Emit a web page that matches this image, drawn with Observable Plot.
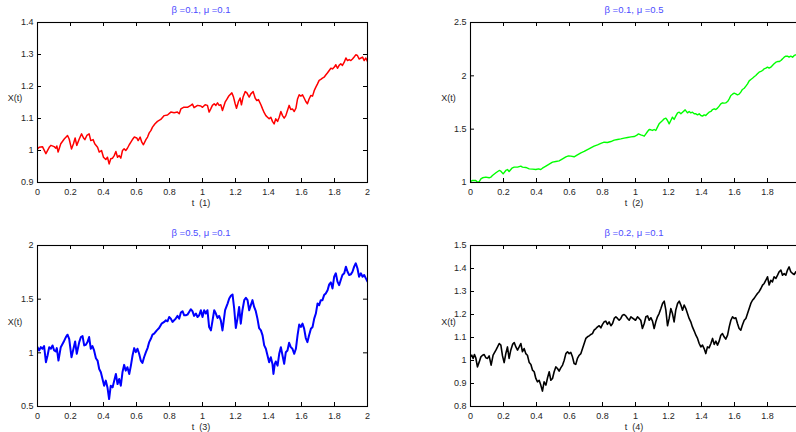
<!DOCTYPE html>
<html>
<head>
<meta charset="utf-8">
<script src="https://cdn.jsdelivr.net/npm/d3@7"></script>
<script src="https://cdn.jsdelivr.net/npm/@observablehq/plot@0.6"></script>
<style>
  html, body { margin: 0; padding: 0; background: #fff; }
  #wrap { position: relative; width: 796px; height: 432px; overflow: hidden; background: #fff;
          font-family: "Liberation Sans", Arial, sans-serif; }
  .panel { position: absolute; }
  .panel svg { max-width: none !important; }
  .lbl { position: absolute; transform: translate(-50%, -50%); white-space: pre; font-size: 9px; color: #262626; line-height: 1; }
  .ttl { position: absolute; transform: translate(-50%, -50%); white-space: pre; font-size: 9.5px; color: #4d4dff; line-height: 1; }
</style>
</head>
<body>
<div id="wrap"></div>
<script>
// ---------- data ----------
const titles = ["\u03b2 =0.1, \u03bc =0.1", "\u03b2 =0.1, \u03bc =0.5", "\u03b2 =0.5, \u03bc =0.1", "\u03b2 =0.2, \u03bc =0.1"];
const xLabels = ["t  (1)", "t  (2)", "t  (3)", "t  (4)"];
const yLabel = "X(t)";
const xTicks = [0, 0.2, 0.4, 0.6, 0.8, 1, 1.2, 1.4, 1.6, 1.8, 2];
// the right-hand panels are cut by the picture edge before t = 2
const xTickLabelsRight = [0, 0.2, 0.4, 0.6, 0.8, 1, 1.2, 1.4, 1.6, 1.8];
const yTicks1 = [0.9, 1, 1.1, 1.2, 1.3, 1.4];
const yTicks2 = [1, 1.5, 2, 2.5];
const yTicks3 = [0.5, 1, 1.5, 2];
const yTicks4 = [0.8, 0.9, 1, 1.1, 1.2, 1.3, 1.4, 1.5];

// panel 1 (beta 0.1, mu 0.1)
const t1 = [0,0.010,0.030,0.051,0.071,0.081,0.101,0.111,0.117,0.125,0.141,0.162,0.182,0.192,0.206,0.218,0.228,0.238,0.253,0.267,
0.279,0.287,0.299,0.313,0.323,0.337,0.347,0.364,0.374,0.388,0.400,0.414,0.424,0.434,0.444,0.455,0.465,0.475,0.485,0.495,
0.505,0.515,0.525,0.535,0.545,0.556,0.566,0.578,0.586,0.602,0.610,0.622,0.632,0.642,0.657,0.667,0.677,0.687,0.697,0.711,
0.727,0.747,0.768,0.788,0.808,0.828,0.848,0.859,0.869,0.885,0.909,0.929,0.939,0.949,0.970,0.990,
1.0,1.016,1.030,1.040,1.050,1.060,1.071,1.081,1.091,1.101,1.111,1.121,1.137,1.152,1.162,1.178,1.188,1.198,1.206,1.218,
1.228,1.236,1.246,1.259,1.269,1.277,1.283,1.293,1.307,1.319,1.329,1.339,1.354,1.364,1.374,1.384,1.394,1.404,1.414,1.424,
1.434,1.444,1.455,1.465,1.475,1.485,1.495,1.505,1.515,1.525,1.535,1.545,1.556,1.566,1.576,1.586,1.596,1.606,1.616,1.626,
1.636,1.646,1.657,1.667,1.677,1.687,1.697,1.707,1.717,1.727,1.737,1.747,1.758,1.768,1.778,1.788,1.798,1.808,1.818,1.828,
1.838,1.848,1.859,1.869,1.879,1.889,1.899,1.909,1.919,1.929,1.939,1.949,1.960,1.970,1.980,1.990,2.0];
const x1 = [1.005,1.010,1.012,0.990,1.010,1.016,1.012,1.007,1.014,0.995,1.021,1.036,1.047,1.036,1.005,1.021,1.039,1.016,1.036,1.052,
1.039,1.034,1.047,1.052,1.031,1.034,1.021,1.010,0.995,1.000,0.979,0.972,0.979,0.958,0.974,0.976,0.984,0.997,0.979,0.984,
0.976,1.000,1.005,1.000,1.007,1.018,1.026,1.036,1.042,1.039,1.031,1.042,1.026,1.018,1.034,1.042,1.055,1.062,1.073,1.083,
1.091,1.097,1.109,1.111,1.120,1.118,1.120,1.115,1.130,1.135,1.135,1.141,1.145,1.134,1.141,1.139,
1.135,1.143,1.141,1.120,1.130,1.141,1.146,1.141,1.149,1.141,1.143,1.125,1.151,1.164,1.172,1.180,1.167,1.146,1.132,1.153,
1.164,1.143,1.167,1.184,1.180,1.172,1.167,1.177,1.184,1.164,1.156,1.159,1.143,1.130,1.118,1.109,1.104,1.099,1.104,1.091,
1.083,1.099,1.091,1.104,1.122,1.109,1.101,1.109,1.125,1.141,1.128,1.130,1.122,1.132,1.161,1.174,1.170,1.174,1.164,1.153,
1.146,1.161,1.172,1.170,1.187,1.198,1.208,1.219,1.222,1.226,1.229,1.236,1.243,1.250,1.257,1.255,1.260,1.268,1.257,1.266,
1.271,1.266,1.276,1.289,1.281,1.284,1.281,1.286,1.292,1.299,1.297,1.286,1.289,1.292,1.281,1.289,1.278];

// panel 2 (beta 0.1, mu 0.5)
const t2 = [0,0.012,0.032,0.042,0.053,0.063,0.073,0.093,0.113,0.123,0.133,0.154,0.174,0.184,0.198,0.214,0.224,0.234,0.251,0.265,
0.285,0.305,0.315,0.335,0.356,0.376,0.396,0.412,0.426,0.436,0.457,0.477,0.497,0.517,0.537,0.558,0.578,0.594,0.608,0.628,
0.648,0.669,0.689,0.709,0.729,0.749,0.770,0.790,0.810,0.830,0.851,0.871,0.891,0.911,0.931,0.952,0.972,0.992,1.006,1.018,
1.032,1.042,1.053,1.063,1.073,1.083,1.093,1.103,1.113,1.123,1.133,1.143,1.164,1.174,1.184,1.194,1.204,1.214,1.224,1.234,
1.244,1.255,1.265,1.275,1.285,1.301,1.315,1.325,1.335,1.345,1.356,1.366,1.376,1.386,1.396,1.406,1.416,1.426,1.436,1.446,
1.457,1.467,1.477,1.487,1.497,1.507,1.517,1.527,1.537,1.547,1.558,1.568,1.578,1.588,1.598,1.608,1.618,1.628,1.638,1.648,
1.659,1.669,1.679,1.689,1.699,1.709,1.719,1.729,1.739,1.749,1.760,1.770,1.780,1.790,1.800,1.810,1.820,1.830,1.840,1.851,
1.861,1.871,1.881,1.891,1.901,1.911,1.921,1.931,1.941,1.952,1.962,1.972,2.0];
const x2 = [1.009,1.019,1.019,1.003,1.009,1.034,1.044,1.050,1.044,1.050,1.066,1.091,1.113,1.106,1.081,1.113,1.122,1.103,1.134,1.144,
1.144,1.153,1.144,1.141,1.128,1.125,1.122,1.128,1.122,1.134,1.153,1.172,1.191,1.197,1.203,1.222,1.241,1.250,1.247,1.241,
1.259,1.278,1.291,1.309,1.325,1.341,1.353,1.366,1.378,1.375,1.384,1.397,1.403,1.409,1.416,1.422,1.428,1.431,1.441,1.456,
1.447,1.441,1.434,1.456,1.478,1.497,1.494,1.488,1.497,1.488,1.519,1.550,1.581,1.597,1.603,1.581,1.550,1.581,1.613,1.591,
1.622,1.653,1.659,1.644,1.659,1.681,1.653,1.666,1.653,1.659,1.644,1.644,1.634,1.644,1.628,1.622,1.634,1.628,1.644,1.659,
1.666,1.684,1.691,1.684,1.697,1.716,1.738,1.747,1.744,1.747,1.759,1.784,1.816,1.828,1.838,1.831,1.822,1.828,1.847,1.872,
1.884,1.903,1.925,1.953,1.966,1.978,1.991,2.003,2.019,2.034,2.041,2.050,2.066,2.072,2.081,2.072,2.081,2.097,2.113,2.128,
2.134,2.134,2.144,2.159,2.175,2.184,2.184,2.175,2.184,2.175,2.191,2.197,2.20];

// panel 3 (beta 0.5, mu 0.1)
const t3 = [0,0.010,0.020,0.030,0.040,0.051,0.061,0.071,0.081,0.091,0.101,0.111,0.117,0.127,0.141,0.158,0.172,0.182,0.192,0.206,
0.218,0.228,0.238,0.253,0.263,0.273,0.283,0.293,0.303,0.313,0.323,0.333,0.343,0.354,0.364,0.374,0.384,0.394,0.404,0.414,
0.424,0.434,0.444,0.455,0.465,0.475,0.485,0.495,0.505,0.515,0.525,0.535,0.545,0.556,0.566,0.576,0.586,0.596,0.606,0.616,
0.626,0.636,0.646,0.657,0.667,0.677,0.687,0.697,0.707,0.723,0.737,0.752,0.768,0.778,0.788,0.798,0.808,0.818,0.828,0.838,
0.848,0.859,0.869,0.879,0.889,0.899,0.909,0.919,0.929,0.939,0.949,0.960,0.970,0.980,0.990,
1.0,1.010,1.020,1.030,1.040,1.051,1.061,1.071,1.081,1.091,1.101,1.111,1.121,1.137,1.152,1.162,1.172,1.182,1.192,1.202,
1.212,1.222,1.232,1.242,1.253,1.263,1.273,1.283,1.293,1.303,1.313,1.323,1.333,1.343,1.354,1.364,1.374,1.384,1.394,1.404,
1.414,1.424,1.430,1.438,1.444,1.455,1.465,1.475,1.485,1.495,1.505,1.515,1.525,1.535,1.545,1.556,1.566,1.576,1.586,1.596,
1.606,1.616,1.626,1.636,1.646,1.657,1.667,1.677,1.687,1.697,1.707,1.717,1.727,1.737,1.747,1.758,1.768,1.778,1.788,1.798,
1.808,1.818,1.828,1.838,1.848,1.859,1.869,1.879,1.889,1.899,1.909,1.919,1.929,1.939,1.949,1.960,1.970,1.980,1.990,2.0];
const x3 = [1.053,1.022,1.053,1.038,1.063,0.913,0.975,1.053,1.038,1.069,1.022,1.013,1.044,0.928,1.053,1.100,1.147,1.169,1.131,0.959,
1.038,1.106,0.991,1.100,1.147,1.156,1.069,1.075,1.100,1.147,1.038,1.063,1.022,0.950,0.928,0.850,0.819,0.756,0.694,0.741,
0.678,0.569,0.694,0.678,0.741,0.803,0.709,0.756,0.694,0.819,0.888,0.834,0.866,0.803,0.881,0.975,1.044,1.006,1.038,0.991,
0.928,0.906,0.959,1.006,1.044,1.100,1.131,1.169,1.178,1.209,1.231,1.272,1.288,1.303,1.294,1.334,1.319,1.288,1.303,1.319,
1.344,1.319,1.375,1.388,1.350,1.350,1.356,1.381,1.406,1.388,1.344,1.366,1.334,1.350,1.397,
1.334,1.397,1.366,1.397,1.241,1.209,1.303,1.397,1.366,1.325,1.344,1.303,1.209,1.397,1.459,1.506,1.531,1.544,1.413,1.231,
1.319,1.428,1.272,1.397,1.491,1.513,1.491,1.397,1.444,1.491,1.428,1.388,1.319,1.231,1.209,1.163,1.069,1.038,0.975,0.913,
0.959,0.897,0.803,0.897,0.919,0.881,0.991,1.053,0.975,0.897,1.006,1.022,1.094,1.053,1.038,0.991,1.038,1.163,1.263,1.241,
1.272,1.225,1.138,1.100,1.163,1.225,1.241,1.319,1.366,1.459,1.444,1.491,1.491,1.538,1.553,1.584,1.638,1.656,1.600,1.709,
1.741,1.663,1.631,1.678,1.725,1.741,1.803,1.756,1.725,1.731,1.756,1.803,1.834,1.788,1.709,1.741,1.709,1.725,1.694,1.663];

// panel 4 (beta 0.2, mu 0.1)
const t4 = [0,0.008,0.016,0.024,0.032,0.042,0.053,0.063,0.073,0.083,0.093,0.103,0.113,0.125,0.137,
0.154,0.164,0.174,0.184,0.194,0.204,0.214,0.224,0.234,0.244,0.255,0.265,0.275,0.285,0.295,0.305,0.315,0.325,0.335,0.345,
0.356,0.366,0.376,0.386,0.396,0.406,0.416,0.426,0.436,0.446,0.457,0.467,0.477,0.487,0.497,0.507,0.517,0.527,0.537,0.547,
0.558,0.568,0.578,0.588,0.598,0.608,0.618,0.628,0.638,0.648,0.659,0.669,0.679,0.689,0.699,0.709,0.719,0.729,0.739,0.749,
0.760,0.770,0.780,0.790,0.800,0.810,0.820,0.830,0.840,0.851,0.861,0.871,0.881,0.891,0.901,0.911,0.921,0.931,0.941,0.952,
0.962,0.972,
1.0,1.012,1.022,1.032,1.042,1.053,1.063,1.073,1.083,1.093,1.103,1.113,1.123,1.133,1.143,1.154,1.164,1.174,1.184,1.194,1.204,
1.214,1.224,1.234,1.244,1.255,1.265,1.275,1.285,1.295,1.305,1.315,1.325,1.335,1.345,1.356,1.366,1.376,1.386,1.396,1.406,
1.416,1.426,1.436,1.446,1.457,1.467,1.477,1.487,1.497,1.507,1.517,1.527,1.537,1.547,1.558,1.568,1.578,1.588,1.598,1.608,
1.618,1.628,1.638,1.648,1.659,1.669,1.679,1.689,1.699,1.709,1.719,1.729,1.739,1.749,1.760,1.770,1.780,1.790,1.800,1.810,
1.820,1.830,1.840,1.851,1.861,1.871,1.881,1.891,1.901,1.911,1.921,1.931,1.941,1.952,1.962,1.972,1.982,2.0];
const x4 = [1.016,1.023,1.009,1.026,1.012,0.972,0.994,1.016,1.023,1.026,1.012,1.009,1.020,0.980,1.023,
1.045,1.059,1.074,1.067,1.020,0.991,1.030,1.059,1.009,1.045,1.070,1.078,1.059,1.045,1.059,1.074,1.038,1.052,1.030,1.023,
0.991,0.983,0.958,0.951,0.922,0.907,0.914,0.893,0.867,0.907,0.893,0.925,0.951,0.914,0.922,0.951,0.972,0.965,0.954,0.968,
0.980,1.001,1.030,1.038,1.030,1.035,1.016,0.987,0.983,1.009,1.023,1.030,1.052,1.074,1.096,1.103,1.107,1.113,1.117,1.132,
1.139,1.146,1.151,1.142,1.157,1.168,1.171,1.157,1.168,1.151,1.161,1.183,1.190,1.183,1.175,1.183,1.197,1.200,1.194,1.183,
1.175,1.190,
1.175,1.190,1.183,1.175,1.139,1.161,1.190,1.194,1.175,1.186,1.171,1.139,1.168,1.190,1.204,1.226,1.248,1.258,1.219,1.151,1.183,
1.226,1.204,1.168,1.219,1.248,1.258,1.241,1.219,1.241,1.226,1.204,1.183,1.168,1.146,1.128,1.110,1.096,1.074,1.059,1.067,
1.052,1.030,1.059,1.055,1.074,1.096,1.070,1.084,1.067,1.084,1.110,1.117,1.103,1.093,1.110,1.146,1.175,1.190,1.183,1.186,
1.161,1.139,1.132,1.154,1.175,1.183,1.204,1.226,1.248,1.262,1.270,1.281,1.291,1.299,1.313,1.328,1.335,1.349,1.364,1.328,
1.349,1.342,1.364,1.357,1.371,1.386,1.393,1.371,1.378,1.371,1.393,1.407,1.386,1.378,1.374,1.386,1.371,1.370];

const colors = ["#ff0000", "#00ff00", "#0000ff", "#000000"];
const widths = [1.5, 1.4, 2, 1.6];

// ---------- layout ----------
const wrap = document.getElementById("wrap");
const fmt = d => String(+d.toFixed(2));

function panel(i, t, v, yDom, yTicks, xLabelTicks, L, R, T, B, tickLen) {
  const n = Math.min(t.length, v.length);
  if (t.length !== v.length) console.warn("length mismatch panel", i + 1, t.length, v.length);
  const data = d3.range(n).map(k => ({t: t[k], v: v[k]}));
  const mL = 40, mR = 8, mT = 15, mB = 22;
  const fw = R - L, fh = B - T;
  const W = fw + mL + mR, H = fh + mT + mB;
  const chart = Plot.plot({
    width: W, height: H,
    marginLeft: mL, marginRight: mR, marginTop: mT, marginBottom: mB,
    x: {domain: [0, 2]},
    y: {domain: yDom},
    style: {fontFamily: "'Liberation Sans', Arial, sans-serif", fontSize: "9px", color: "#262626", background: "transparent"},
    marks: [
      Plot.line(data, {x: "t", y: "v", stroke: colors[i], strokeWidth: widths[i], clip: true}),
      Plot.tickX(xTicks, {x: d => d, insetTop: fh - tickLen, stroke: "#000"}),
      Plot.tickX(xTicks, {x: d => d, insetBottom: fh - tickLen, stroke: "#000"}),
      Plot.tickY(yTicks, {y: d => d, insetLeft: fw - tickLen, stroke: "#000"}),
      Plot.tickY(yTicks, {y: d => d, insetRight: fw - tickLen, stroke: "#000"}),
      Plot.axisX(xLabelTicks, {anchor: "bottom", tickSize: 0, tickPadding: 6, tickFormat: fmt, label: null}),
      Plot.axisY(yTicks, {anchor: "left", tickSize: 0, tickPadding: 4, tickFormat: fmt, label: null}),
      Plot.frame({stroke: "#000", strokeWidth: 1.1})
    ]
  });
  const div = document.createElement("div");
  div.className = "panel";
  div.style.left = (L - mL) + "px";
  div.style.top = (T - mT) + "px";
  div.style.width = W + "px";
  div.style.height = H + "px";
  div.appendChild(chart);
  wrap.appendChild(div);

  const add = (cls, text, x, y) => {
    const s = document.createElement("div");
    s.className = cls; s.textContent = text;
    s.style.left = x + "px"; s.style.top = y + "px";
    wrap.appendChild(s);
  };
  add("ttl", titles[i], i % 2 ? 634 : 201, T - 12);
  add("lbl", xLabels[i], i % 2 ? 634 : 201, B + 21);
  add("lbl", yLabel, i % 2 ? 448.5 : 15, (T + B) / 2 - 4);
}

panel(0, t1, x1, [0.9, 1.4], yTicks1, xTicks, 37, 367, 22, 182, 4);
panel(1, t2, x2, [1, 2.5], yTicks2, xTickLabelsRight, 470, 800, 22, 182, 4);
panel(2, t3, x3, [0.5, 2], yTicks3, xTicks, 37, 367, 245, 406, 4);
panel(3, t4, x4, [0.8, 1.5], yTicks4, xTickLabelsRight, 470, 800, 245, 406, 4);
</script>
</body>
</html>
